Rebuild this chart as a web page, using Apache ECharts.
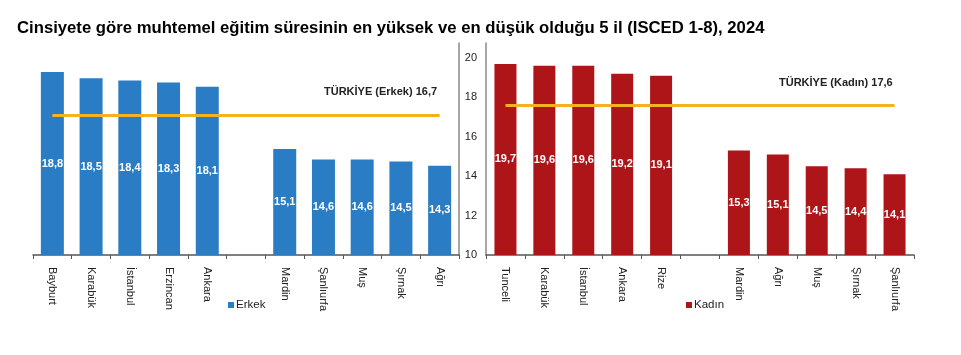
<!DOCTYPE html>
<html><head><meta charset="utf-8">
<script src="https://cdn.jsdelivr.net/npm/echarts@6/dist/echarts.min.js"></script>
<style>html,body{margin:0;padding:0;background:#fff}#c{width:961px;height:355px}</style>
</head><body><div id="c"></div>
<script>
const titleText = 'Cinsiyete göre muhtemel eğitim süresinin en yüksek ve en düşük olduğu 5 il (ISCED 1-8), 2024';
const maleCats = ['Bayburt','Karabük','İstanbul','Erzincan','Ankara','','Mardin','Şanlıurfa','Muş','Şırnak','Ağrı'];
const maleVals = [18.8,18.5,18.4,18.3,18.1,null,15.1,14.6,14.6,14.5,14.3];
const maleAvg = 16.7;
const femaleCats = ['Tunceli','Karabük','İstanbul','Ankara','Rize','','Mardin','Ağrı','Muş','Şırnak','Şanlıurfa'];
const femaleVals = [19.7,19.6,19.6,19.2,19.1,null,15.3,15.1,14.5,14.4,14.1];
const femaleAvg = 17.6;
const yTicks = [10,12,14,16,18,20];

const FONT = 'Arial, "Liberation Sans", sans-serif';
const fmt = v => String(v).replace('.', ',');
const chart = echarts.init(document.getElementById('c'));

function xAxis(idx, cats){
  return {
    type:'category', gridIndex:idx, data:cats,
    axisLine:{lineStyle:{color:'#555',width:1.5}},
    axisTick:{show:true,length:4,lineStyle:{color:'#555'}},
    axisLabel:{rotate:-90,margin:12,color:'#222',fontSize:11,fontFamily:FONT,interval:0}
  };
}
function barSeries(idx, name, vals, color, avg){
  return {
    type:'bar', name:name, xAxisIndex:idx, yAxisIndex:idx, data:vals,
    barWidth: idx===0?23:22,
    itemStyle:{color:color},
    label:{show:true,position:'inside',color:'#fff',fontWeight:'bold',fontSize:11,fontFamily:FONT,
      formatter:p=>fmt(p.value)},
    markLine:{symbol:'none',silent:true,label:{show:false},
      lineStyle:{color:'#F4B120',width:3,type:'solid'},
      data:[[{xAxis:0,yAxis:avg},{xAxis:vals.length-1,yAxis:avg}]]}
  };
}

chart.setOption({
  animation:false,
  title:{text:titleText,left:17,top:20,padding:0,textStyle:{fontFamily:FONT,fontSize:16.7,fontWeight:'bold',color:'#000'}},
  grid:[
    {left:33,right:502,top:43,bottom:100},
    {left:486,right:47,top:43,bottom:100}
  ],
  xAxis:[xAxis(0,maleCats),xAxis(1,femaleCats)],
  yAxis:[
    {type:'value',gridIndex:0,position:'right',min:yTicks[0],max:20.2,interval:2,
      axisLine:{show:true,lineStyle:{color:'#888',width:1.5}},axisTick:{show:false},
      axisLabel:{show:false},splitLine:{show:false}},
    {type:'value',gridIndex:1,min:yTicks[0],max:20.76,interval:2,
      axisLine:{show:true,lineStyle:{color:'#888',width:1.5}},axisTick:{show:false},
      axisLabel:{color:'#222',fontSize:11,fontFamily:FONT,margin:9,showMaxLabel:false},
      splitLine:{show:false}}
  ],
  legend:[
    {data:['Erkek'],left:228,top:299,padding:0,itemWidth:6,itemHeight:6,itemGap:4,icon:'rect',
      textStyle:{fontFamily:FONT,fontSize:11.5,color:'#222',padding:[0,0,0,-3]}},
    {data:['Kadın'],left:686,top:299,padding:0,itemWidth:6,itemHeight:6,itemGap:4,icon:'rect',
      textStyle:{fontFamily:FONT,fontSize:11.5,color:'#222',padding:[0,0,0,-3]}}
  ],
  graphic:[
    {type:'text',left:324,top:86,style:{text:'TÜRKİYE (Erkek) '+fmt(maleAvg),font:'bold 11px '+FONT,fill:'#222'}},
    {type:'text',left:779,top:77,style:{text:'TÜRKİYE (Kadın) '+fmt(femaleAvg),font:'bold 11px '+FONT,fill:'#222'}}
  ],
  series:[
    barSeries(0,'Erkek',maleVals,'#2A7DC4',maleAvg),
    barSeries(1,'Kadın',femaleVals,'#AE1519',femaleAvg)
  ]
});
</script></body></html>
